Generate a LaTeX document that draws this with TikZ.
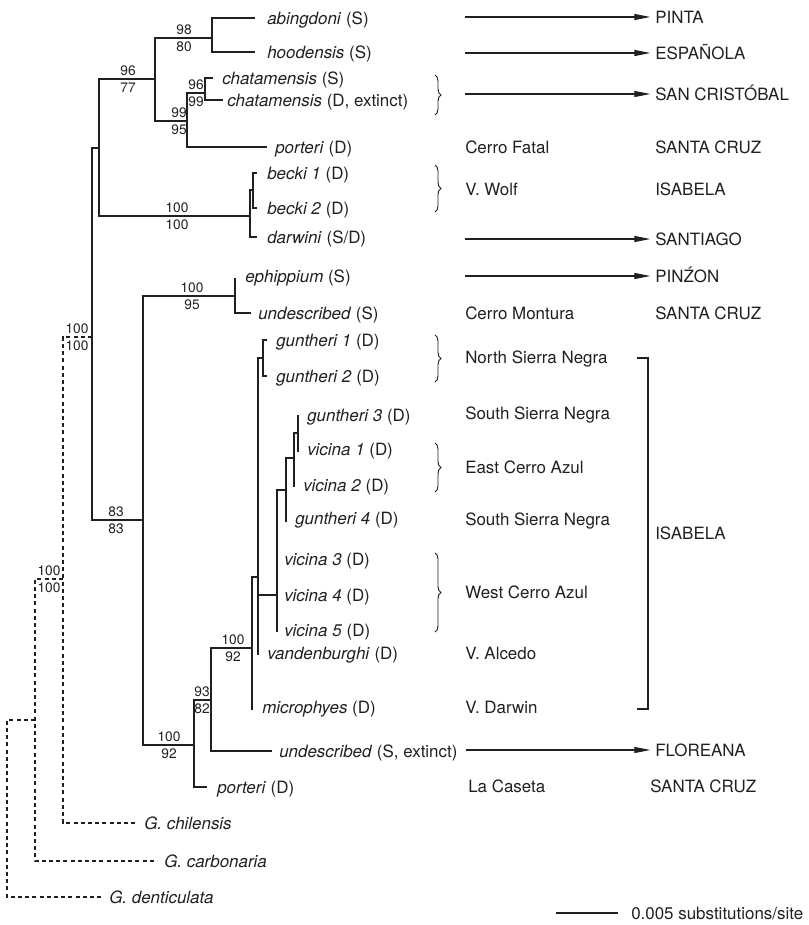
\documentclass[tikz,border=0pt]{standalone}
\usepackage{fontspec}
\setmainfont{TeX Gyre Heros}
\usepackage{tikz}
\usetikzlibrary{arrows.meta,decorations.pathreplacing,positioning}
\definecolor{ink}{RGB}{35,31,32}
\tikzset{
  br/.style={line width=1.5pt, draw=ink},
  og/.style={line width=1.3pt, draw=ink, dash pattern=on 3pt off 2.4pt},
  arr/.style={line width=0.8pt, draw=ink, -{Triangle[length=12pt,width=4.5pt]}, shorten >=3.5pt},
  brc/.style={line width=0.7pt, draw=ink, decorate, decoration={brace, amplitude=4.5pt}},
  txt/.style={anchor=west, inner sep=0pt, text height=9.1pt, text depth=0pt, text=ink, font=\fontsize{12.7}{15}\selectfont},
  bs/.style={inner sep=0pt, text height=7.4pt, text depth=0pt, text=ink, font=\fontsize{10.3}{12}\selectfont}
}

\begin{document}
\begin{tikzpicture}[x=0.75pt, y=-0.75pt]
    \useasboundingbox (0,0) rectangle (809,925);

    % ingroup
    \draw[br] (255,18) -| (212,52) -- (255,52);
    \draw[br] (212,38) -| (155,121) -- (187,121);
    \draw[br] (250,216) -| (99,79) -- (155,79);
    \draw[br] (213,78) -| (205,100) -- (223,100);
    \draw[br] (205,93) -| (187,147) -- (267,147);
    \draw[br] (257,237) -| (250,190) -- (253,190);
    \draw[br] (257,173) -| (253,208) -- (257,208);
    \draw[br] (99,148) -| (92,520) -- (143,520);
    \draw[br] (235,296) -| (143,745) -- (194,745);
    \draw[br] (235,278) |- (251,313);
    \draw[br] (211,700) -| (194,787) -- (207,787);
    \draw[br] (252,648) -| (211,751) -- (272,751);
    \draw[br] (252,710) |- (258,577);
    \draw[br] (258,655) |- (263,358);
    \draw[br] (267,340) -| (263,376) -- (267,376);
    \draw[br] (258,595) -- (277,595);
    \draw[br] (277,632) |- (286,490);
    \draw[br] (286,522) |- (294,458);
    \draw[br] (294,487) |- (298,433);
    \draw[br, line width=1.8pt] (298,415) -- (298,452);

    % outgroups
    \draw[og] (92,337) -| (63,823) -- (137,823);
    \draw[og] (63,579) -| (35,861) -- (157,861);
    \draw[og] (35,720) -| (7,897) -- (102,897);

    \foreach \x/\y/\a/\b [count=\i] in {128/79/96/77, 184/38/98/80, 179/121/99/95, 196/93/96/99,
        177/216/100/100, 77/337/100/100, 192/296/100/95, 116/520/83/83, 49/579/100/100,
        233/648/100/92, 202/700/93/82, 169/745/100/92}
    {
        \node[bs] (up\i) at (\x,\y-8.5) {\a};
        \node[bs] (dn\i) at (\x,\y+8.5) {\b};
    }

    \node[txt] (abing) at (267,18) {\textit{abingdoni} (S)};
    \node[txt] (hood) at (267,52) {\textit{hoodensis} (S)};
    \node[txt] (chatS) at (222,78) {\textit{chatamensis} (S)};
    \node[txt] (chatD) at (227,100) {\textit{chatamensis} (D, extinct)};
    \node[txt] (portA) at (275,147) {\textit{porteri} (D)};
    \node[txt] (becA) at (267,173) {\textit{becki 1} (D)};
    \node[txt] (becB) at (267,208) {\textit{becki 2} (D)};
    \node[txt] (darw) at (267,237) {\textit{darwini} (S/D)};
    \node[txt] (ephi) at (245,276) {\textit{ephippium} (S)};
    \node[txt] (undA) at (258,313) {\textit{undescribed} (S)};
    \node[txt] (gunA) at (276,340) {\textit{guntheri 1} (D)};
    \node[txt] (gunB) at (276,376) {\textit{guntheri 2} (D)};
    \node[txt] (gunC) at (307,415) {\textit{guntheri 3} (D)};
    \node[txt] (vicA) at (307,449) {\textit{vicina 1} (D)};
    \node[txt] (vicB) at (303,485) {\textit{vicina 2} (D)};
    \node[txt] (gunD) at (295,518) {\textit{guntheri 4} (D)};
    \node[txt] (vicC) at (284,559) {\textit{vicina 3} (D)};
    \node[txt] (vicD) at (284,595) {\textit{vicina 4} (D)};
    \node[txt] (vicE) at (284,630) {\textit{vicina 5} (D)};
    \node[txt] (vand) at (267,653) {\textit{vandenburghi} (D)};
    \node[txt] (micr) at (262,707) {\textit{microphyes} (D)};
    \node[txt] (undB) at (279,751) {\textit{undescribed} (S, extinct)};
    \node[txt] (portB) at (217,787) {\textit{porteri} (D)};
    \node[txt] (chil) at (144,823) {\textit{G. chilensis}};
    \node[txt] (carb) at (164,861) {\textit{G. carbonaria}};
    \node[txt] (dent) at (109,897) {\textit{G. denticulata}};

    % localities
    \node[txt] (fatal) at (465,147) {Cerro Fatal};
    \node[txt] (wolf) at (465,189) {V. Wolf};
    \node[txt] (mont) at (465,313) {Cerro Montura};
    \node[txt] (nsn) at (465,357) {North Sierra Negra};
    \node[txt] (ssnA) at (465,413) {South Sierra Negra};
    \node[txt] (eca) at (465,467) {East Cerro Azul};
    \node[txt] (ssnB) at (465,519) {South Sierra Negra};
    \node[txt] (wca) at (465,592) {West Cerro Azul};
    \node[txt] (alc) at (465,653) {V. Alcedo};
    \node[txt] (vdar) at (465,707) {V. Darwin};
    \node[txt] (cas) at (468,786) {La Caseta};

    % islands
    \node[txt] (pinta) at (655,17) {PINTA};
    \node[txt] (espa) at (655,53) {ESPAÑOLA};
    \node[txt] (sanc) at (655,94) {SAN CRISTÓBAL};
    \node[txt] (scA) at (655,147) {SANTA CRUZ};
    \node[txt] (isaA) at (655,189) {ISABELA};
    \node[txt] (sant) at (655,239) {SANTIAGO};
    \node[txt] (pinz) at (655,276) {PINŹON};
    \node[txt] (scB) at (655,313) {SANTA CRUZ};
    \node[txt] (isaB) at (655,533) {ISABELA};
    \node[txt] (flor) at (655,750) {FLOREANA};
    \node[txt] (scC) at (650,786) {SANTA CRUZ};

    \coordinate (aPinta) at (465,17);
    \coordinate (aEspa) at (465,53);
    \coordinate (aSanc) at (465,94);
    \coordinate (aSant) at (465,239);
    \coordinate (aPinz) at (465,276);
    \coordinate (aFlor) at (466,750);
    \draw[arr] (aPinta) -- (aPinta -| pinta.west);
    \draw[arr] (aEspa) -- (aEspa -| espa.west);
    \draw[arr] (aSanc) -- (aSanc -| sanc.west);
    \draw[arr] (aSant) -- (aSant -| sant.west);
    \draw[arr] (aPinz) -- (aPinz -| pinz.west);
    \draw[arr] (aFlor) -- (aFlor -| flor.west);

    \draw[brc] (435,75) -- (435,115);
    \draw[brc] (435,165) -- (435,212);
    \draw[brc] (435,335) -- (435,382);
    \draw[brc] (435,443) -- (435,492);
    \draw[brc] (435,553) -- (435,632);

    \coordinate (isaTop) at (637,358);
    \coordinate (isaBot) at (637,709);
    \draw[line width=1.2pt, draw=ink] (isaTop) -| (648,709) -- (isaBot);

    % scale
    \node[txt] (scale) at (631,913) {0.005 substitutions/site};
    \coordinate (barL) at (556,913);
    \draw[line width=0.8pt, draw=ink] (barL) -- ([xshift=-10pt]scale.west |- barL);
\end{tikzpicture}
\end{document}
